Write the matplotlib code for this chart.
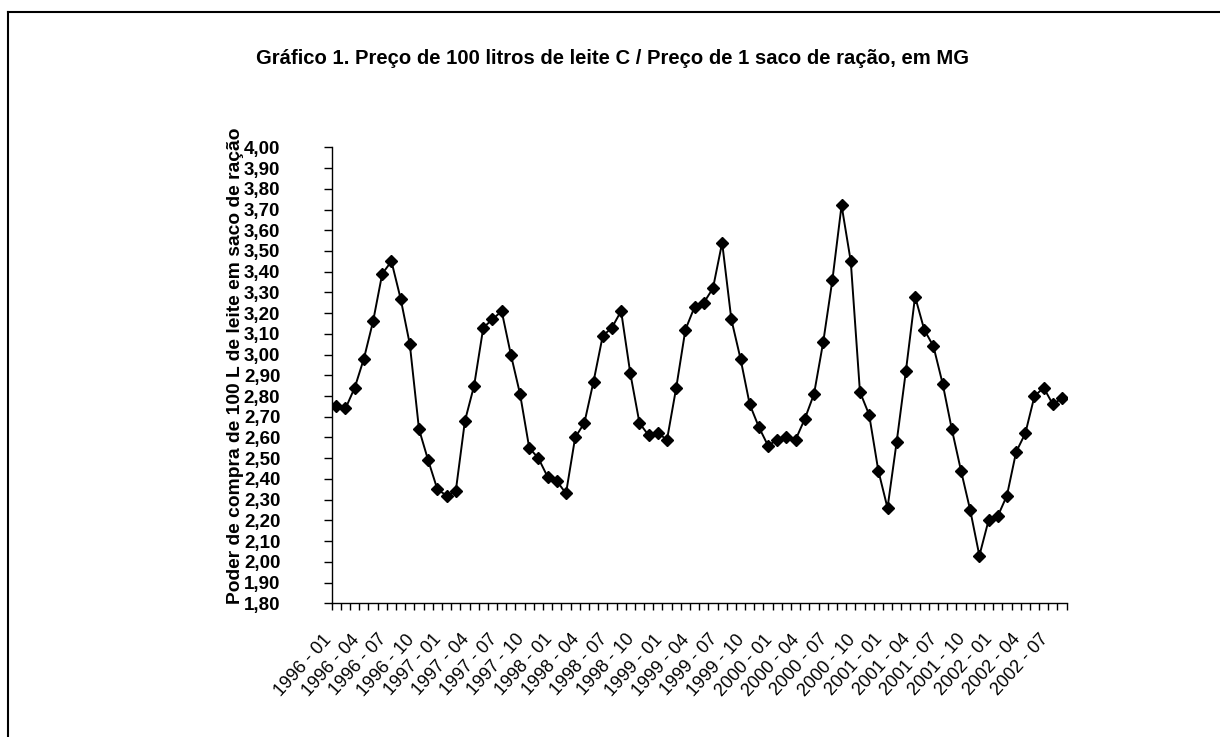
import matplotlib
matplotlib.use("Agg")
import matplotlib.pyplot as plt
from matplotlib.lines import Line2D

plt.rcParams['font.family'] = ['Liberation Sans', 'DejaVu Sans']

# meses de 1996-01 a 2002-08
anos = [1996, 1997, 1998, 1999, 2000, 2001, 2002]
meses = []
for a in anos:
    for m in range(1, 13):
        meses.append(f"{a} - {m:02d}")
meses = meses[:80]

# poder de compra (sacos de ração por 100 L de leite)
poder = [2.75, 2.74, 2.84, 2.98, 3.16, 3.39, 3.45, 3.27, 3.05, 2.64, 2.49, 2.35,
         2.32, 2.34, 2.68, 2.85, 3.13, 3.17, 3.21, 3.00, 2.81, 2.55, 2.50, 2.41,
         2.39, 2.33, 2.60, 2.67, 2.87, 3.09, 3.13, 3.21, 2.91, 2.67, 2.61, 2.62,
         2.59, 2.84, 3.12, 3.23, 3.25, 3.32, 3.54, 3.17, 2.98, 2.76, 2.65, 2.56,
         2.59, 2.60, 2.59, 2.69, 2.81, 3.06, 3.36, 3.72, 3.45, 2.82, 2.71, 2.44,
         2.26, 2.58, 2.92, 3.28, 3.12, 3.04, 2.86, 2.64, 2.44, 2.25, 2.03, 2.20,
         2.22, 2.32, 2.53, 2.62, 2.80, 2.84, 2.76, 2.79]

yticks = [1.80 + 0.10 * i for i in range(23)]

fig = plt.figure(figsize=(12.2, 7.37), dpi=100)
ax = fig.add_axes([0.2719, 0.1814, 0.6024, 0.6187])

x = list(range(len(poder)))
ax.plot(x, poder, color='black', lw=1.4, marker='D', ms=6.5,
        markerfacecolor='black', markeredgecolor='black')

ax.set_xlim(-0.5, len(poder) - 0.5)
ax.set_ylim(1.80, 4.00)

ax.set_yticks(yticks)
ax.set_yticklabels([f"{v:.2f}".replace('.', ',') for v in yticks],
                   fontsize=13.5, fontweight='bold')

# marcas entre categorias, rótulos a cada 3 meses
ax.set_xticks([i - 0.5 for i in range(len(poder) + 1)])
ax.set_xticklabels([])
for i in x[::3]:
    ax.annotate(meses[i], xy=(i, 0), xycoords=('data', 'axes fraction'),
                xytext=(-10, -20), textcoords='offset points',
                rotation=48, ha='right', va='top', rotation_mode='anchor',
                fontsize=13, annotation_clip=False)
ax.tick_params(axis='x', length=5, width=1, direction='out')
ax.tick_params(axis='y', length=6, width=1, direction='out', pad=31)

for s in ['top', 'right']:
    ax.spines[s].set_visible(False)
for s in ['left', 'bottom']:
    ax.spines[s].set_linewidth(1)

ax.set_ylabel("Poder de compra de 100 L de leite em saco de ração",
              fontsize=13.9, fontweight='bold')
ax.yaxis.set_label_coords(-0.12, 0.52)

fig.text(0.502, 0.921, "Gráfico 1. Preço de 100 litros de leite C / Preço de 1 saco de ração, em MG",
         ha='center', va='center', fontsize=14.6, fontweight='bold')

# moldura (topo e esquerda)
fig.add_artist(Line2D([0.0065, 1.0], [0.984, 0.984], transform=fig.transFigure,
                      color='black', lw=1.5))
fig.add_artist(Line2D([0.0065, 0.0065], [0.0, 0.984], transform=fig.transFigure,
                      color='black', lw=1.5))

fig.savefig("out.png", dpi=100, facecolor='white')
